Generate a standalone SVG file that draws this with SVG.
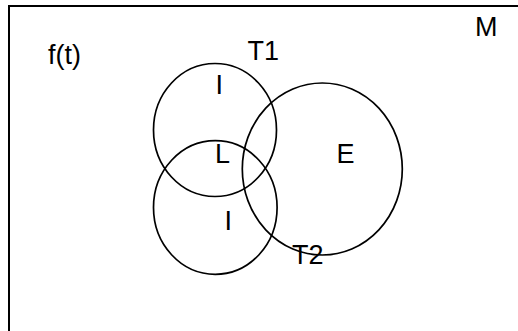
<svg xmlns="http://www.w3.org/2000/svg" width="518" height="331" viewBox="0 0 518 331">
<style>
.c{fill:none;stroke:#000;stroke-width:1.7}
.t{font-family:"Liberation Sans",Arial,sans-serif;font-size:27px;fill:#000}
</style>
<rect width="518" height="331" fill="#fff"/>
<g id="frame">
<path d="M9,340 V6 H525" fill="none" stroke="#000" stroke-width="2"/>
<text class="t" x="475" y="36">M</text>
<text class="t" x="48" y="64">f(t)</text>
</g>
<g id="T1">
<ellipse class="c" cx="215" cy="130" rx="61.5" ry="66.5"/>
<text class="t" x="247.4" y="60">T1</text>
<text class="t" x="215.5" y="94">I</text>
</g>
<g id="T2">
<ellipse class="c" cx="215.3" cy="207.5" rx="61.8" ry="66.8"/>
<text class="t" x="292" y="264">T2</text>
<text class="t" x="224.5" y="230">I</text>
</g>
<g id="E">
<ellipse class="c" cx="322.3" cy="169" rx="80" ry="86"/>
<text class="t" x="336.4" y="163">E</text>
</g>
<g id="L">
<text class="t" x="215" y="163">L</text>
</g>
</svg>
